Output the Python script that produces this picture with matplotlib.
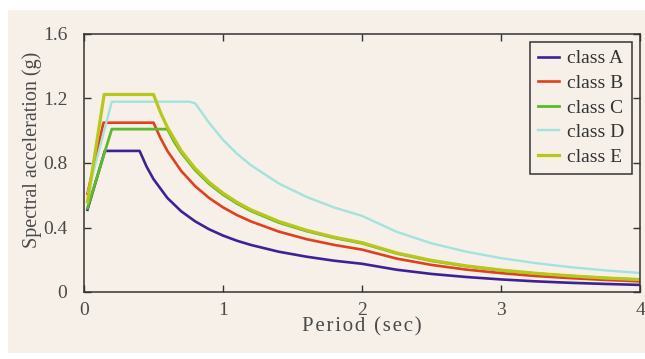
import matplotlib
matplotlib.use("Agg")
import matplotlib.pyplot as plt
from matplotlib.patches import Rectangle

# periods (sec) and spectral acceleration (g)
t_a = [0.025, 0.15, 0.40, 0.45, 0.5, 0.6, 0.7, 0.8, 0.9, 1.0, 1.1, 1.2, 1.4, 1.6, 1.8, 2.0,
       2.25, 2.5, 2.75, 3.0, 3.25, 3.5, 3.75, 4.0]
sa_a = [0.51, 0.875, 0.875, 0.778, 0.70, 0.583, 0.50, 0.438, 0.389, 0.35, 0.318, 0.292, 0.25,
        0.219, 0.194, 0.175, 0.138, 0.112, 0.093, 0.078, 0.066, 0.057, 0.050, 0.044]

t_b = [0.025, 0.14, 0.50, 0.55, 0.6, 0.7, 0.8, 0.9, 1.0, 1.1, 1.2, 1.4, 1.6, 1.8, 2.0,
       2.25, 2.5, 2.75, 3.0, 3.25, 3.5, 3.75, 4.0]
sa_b = [0.61, 1.05, 1.05, 0.955, 0.875, 0.75, 0.656, 0.583, 0.525, 0.477, 0.438, 0.375,
        0.328, 0.292, 0.263, 0.207, 0.168, 0.139, 0.117, 0.099, 0.086, 0.075, 0.066]

t_c = [0.025, 0.20, 0.60, 0.65, 0.7, 0.8, 0.9, 1.0, 1.1, 1.2, 1.4, 1.6, 1.8, 2.0,
       2.25, 2.5, 2.75, 3.0, 3.25, 3.5, 3.75, 4.0]
sa_c = [0.52, 1.01, 1.01, 0.929, 0.863, 0.755, 0.671, 0.604, 0.549, 0.503, 0.431, 0.378,
        0.336, 0.302, 0.239, 0.193, 0.160, 0.134, 0.114, 0.099, 0.086, 0.076]

t_d = [0.03, 0.20, 0.76, 0.8, 0.85, 0.9, 1.0, 1.1, 1.2, 1.4, 1.6, 1.8, 2.0,
       2.25, 2.5, 2.75, 3.0, 3.25, 3.5, 3.75, 4.0]
sa_d = [0.62, 1.18, 1.18, 1.17, 1.11, 1.049, 0.944, 0.858, 0.787, 0.674, 0.59, 0.524, 0.472,
        0.373, 0.302, 0.250, 0.210, 0.179, 0.154, 0.134, 0.118]

t_e = [0.025, 0.145, 0.50, 0.55, 0.6, 0.7, 0.8, 0.9, 1.0, 1.1, 1.2, 1.4, 1.6, 1.8, 2.0,
       2.25, 2.5, 2.75, 3.0, 3.25, 3.5, 3.75, 4.0]
sa_e = [0.56, 1.225, 1.225, 1.114, 1.021, 0.875, 0.766, 0.681, 0.613, 0.557, 0.510, 0.438,
        0.383, 0.340, 0.306, 0.242, 0.196, 0.162, 0.136, 0.116, 0.100, 0.087, 0.077]

labels = ["class A", "class B", "class C", "class D", "class E"]
colors = ["#3b2397", "#e0401c", "#5cba2c", "#a4e2de", "#b9c61a"]
widths = [1.9, 1.9, 2.0, 1.7, 2.3]

bg = "#f6f0e8"
serif = ["Liberation Serif", "DejaVu Serif"]


def spaced(s):
    # the original axis titles are letter-spaced
    return "\u200a".join(s)


fig = plt.figure(figsize=(6.45, 3.59), dpi=100, facecolor="white")
fig.patches.append(Rectangle((8 / 645, 6 / 359), 1, 343 / 359, transform=fig.transFigure,
                             facecolor=bg, edgecolor="none", zorder=-10))
ax = fig.add_axes([84 / 645, 67 / 359, 556 / 645, 258 / 359])
ax.set_facecolor("none")

series = [(t_a, sa_a), (t_b, sa_b), (t_c, sa_c), (t_d, sa_d), (t_e, sa_e)]
for (t, sa), lab, col, lw in zip(series, labels, colors, widths):
    ax.plot(t, sa, color=col, lw=lw, label=lab, solid_joinstyle="round")

ax.set_xlim(0, 4)
ax.set_ylim(0, 1.6)
ax.set_xticks([0, 1, 2, 3, 4])
ax.set_yticks([0, 0.4, 0.8, 1.2, 1.6])
ax.set_xticklabels(["0", "1", "2", "3", "4"])
ax.set_yticklabels(["0", "0.4", "0.8", "1.2", "1.6"])
ax.tick_params(direction="in", top=True, right=True, length=5, width=1.0,
               colors="#333333", labelcolor="#4a4a4a", labelsize=14)
ax.tick_params(axis="y", pad=12)
ax.tick_params(axis="x", pad=7)
for lbl in ax.get_xticklabels() + ax.get_yticklabels():
    lbl.set_family(serif)
for s in ax.spines.values():
    s.set_color("#333333")
    s.set_linewidth(1.1)

ax.set_xlabel(spaced("Period (sec)"), family=serif, fontsize=15, color="#4a4a4a",
              labelpad=-1)
ax.set_ylabel("Spectral acceleration (g)", family=serif, fontsize=14.5, color="#4a4a4a")
ax.yaxis.set_label_coords(-0.075, 0.55)

leg = ax.legend(loc="upper right", bbox_to_anchor=(0.9856, 0.969), borderaxespad=0,
                prop={"family": serif, "size": 14}, frameon=True, fancybox=False,
                facecolor=bg, edgecolor="#333333", framealpha=1,
                handlelength=1.1, handletextpad=0.4, labelspacing=0.36,
                borderpad=0.4)
leg.get_frame().set_linewidth(1.1)
for txt in leg.get_texts():
    txt.set_color("#333333")

fig.savefig("out.png", dpi=100, facecolor=fig.get_facecolor())
